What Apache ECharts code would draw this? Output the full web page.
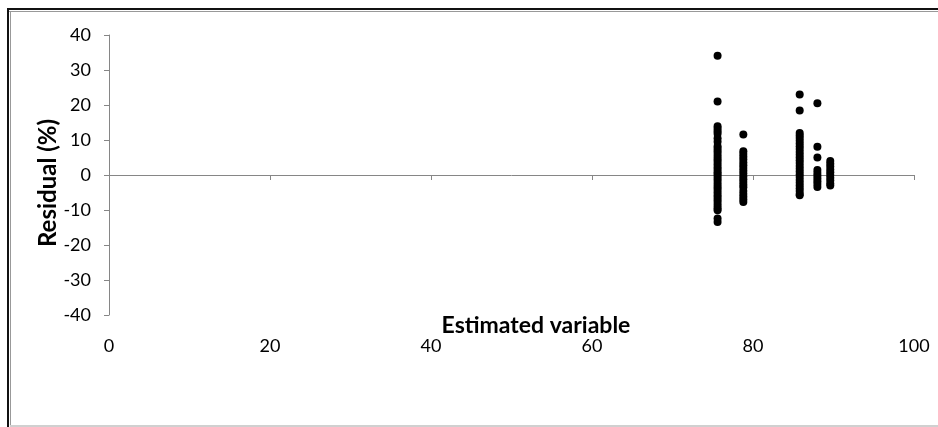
<!DOCTYPE html>
<html>
<head>
<meta charset="utf-8">
<script src="https://cdn.jsdelivr.net/npm/echarts@6/dist/echarts.min.js"></script>
<style>
html,body{margin:0;padding:0;background:#fff;}
#wrap{position:relative;width:938px;height:427px;overflow:hidden;background:#fff;}
#chart{position:absolute;left:0;top:0;width:938px;height:427px;}
.fl{position:absolute;pointer-events:none;}
</style>
</head>
<body>
<div id="wrap">
<div id="chart"></div>
<div class="fl" style="left:7px;top:8px;width:931px;height:2px;background:#111;"></div>
<div class="fl" style="left:9px;top:11px;width:929px;height:1px;background:#999;"></div>
<div class="fl" style="left:7px;top:8px;width:2px;height:419px;background:#111;"></div>
<div class="fl" style="left:10px;top:11px;width:1px;height:416px;background:#999;"></div>
<div class="fl" style="left:10px;top:425px;width:928px;height:2px;background:#d0d0d0;"></div>
</div>
<script>
// Estimated variable (x) of each column of residual points
const columnX = [75.6, 78.8, 85.8, 88.0, 89.6];
// Residual (%) values read for each column
const residualsCol1 = [34.1, 21.0, 13.9, 13.2, 12.5, 11.8, 10.5, 9.5, 8.2, 7.5, 6.8, 6.0, 5.2, 4.5, 3.8, 3.0, 2.2, 1.5, 0.8, 0.2, -0.5, -1.2, -2.0, -2.8, -3.5, -4.2, -5.0, -5.8, -6.5, -7.2, -8.0, -8.8, -9.5, -10.1, -12.4, -13.4];
const residualsCol2 = [11.6, 6.8, 6.0, 5.2, 4.4, 3.6, 2.8, 2.0, 1.2, 0.4, -0.4, -1.2, -2.0, -2.8, -3.5, -4.6, -5.4, -6.2, -7.0, -7.7];
const residualsCol3 = [23.0, 18.4, 12.0, 11.3, 10.6, 9.8, 9.0, 8.2, 7.4, 6.6, 5.8, 5.0, 4.2, 3.4, 2.6, 1.8, 1.0, 0.2, -0.6, -1.4, -2.2, -3.0, -3.8, -4.6, -5.4, -5.8];
const residualsCol4 = [20.5, 8.1, 5.0, 1.4, 0.6, -0.2, -1.0, -1.8, -2.6, -3.4];
const residualsCol5 = [4.0, 3.2, 2.4, 1.6, 0.8, 0.0, -0.8, -1.6, -2.4, -3.0];
const xTicks = [0, 20, 40, 60, 80, 100];
const yTicks = [-40, -30, -20, -10, 0, 10, 20, 30, 40];
const xTitle = 'Estimated variable';
const yTitle = 'Residual (%)';

const cols = [residualsCol1, residualsCol2, residualsCol3, residualsCol4, residualsCol5];
const points = [];
cols.forEach((arr, i) => arr.forEach(v => points.push([columnX[i], v])));

const font = 'Lato, "Open Sans", sans-serif';
const chart = echarts.init(document.getElementById('chart'), null, {renderer: 'canvas'});
chart.setOption({
  animation: false,
  backgroundColor: 'transparent',
  grid: {left: 109, right: 24, top: 35, bottom: 112, containLabel: false},
  graphic: [{
    type: 'text', x: 536, y: 326,
    style: {text: xTitle, align: 'center', verticalAlign: 'middle',
      fill: '#000', font: 'bold 23px ' + font}
  }, {
    type: 'text', x: 48, y: 183, rotation: Math.PI / 2,
    style: {text: yTitle, align: 'center', verticalAlign: 'middle',
      fill: '#000', font: 'bold 24px ' + font}
  }],
  xAxis: [
    {
      type: 'value', min: xTicks[0], max: xTicks[xTicks.length - 1], interval: 20,
      axisLine: {show: true, onZero: true, lineStyle: {color: '#868686', width: 1}},
      axisTick: {show: true, inside: false, length: 5, lineStyle: {color: '#868686'}},
      axisLabel: {show: false},
      splitLine: {show: false}
    },
    {
      type: 'value', position: 'bottom', min: xTicks[0], max: xTicks[xTicks.length - 1], interval: 20,
      axisLine: {show: false, onZero: false},
      axisTick: {show: false},
      splitLine: {show: false},
      axisLabel: {show: true, margin: 22, color: '#000', fontSize: 18, fontFamily: font}
    }
  ],
  yAxis: {
    type: 'value', min: yTicks[0], max: yTicks[yTicks.length - 1], interval: 10,
    axisLine: {show: true, onZero: false, lineStyle: {color: '#868686', width: 1}},
    axisTick: {show: true, length: 5, lineStyle: {color: '#868686'}},
    axisLabel: {margin: 18, color: '#000', fontSize: 18, fontFamily: font},
    splitLine: {show: false}
  },
  series: [{
    type: 'scatter',
    xAxisIndex: 0,
    data: points,
    symbol: 'circle',
    symbolSize: 8,
    itemStyle: {color: '#000', opacity: 1}
  }]
});
</script>
</body>
</html>
